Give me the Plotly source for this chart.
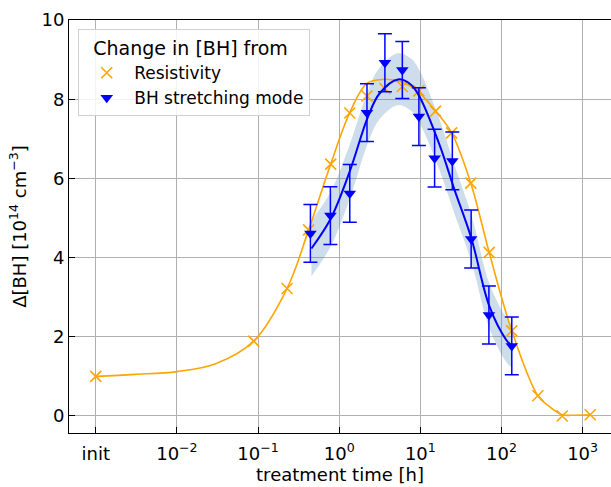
import plotly.graph_objects as go

# ---------------- data ----------------
# Resistivity markers
res_t = [1e-3, 0.0885, 0.228, 0.42, 0.786, 1.35, 2.2, 3.66, 6.0, 9.6,
         15.4, 24.3, 41.9, 70.6, 134, 281, 561, 1241]
res_val = [1.00, 1.89, 3.22, 4.70, 6.36, 7.65, 8.08, 8.27, 8.32, 8.21,
           7.70, 7.15, 5.88, 4.13, 2.15, 0.51, 0.00, 0.03]

# Resistivity smooth curve
res_curve_t = [1e-3, 3e-3, 1e-2, 0.03, 0.0885, 0.228, 0.42, 0.786, 1.35,
               2.2, 3.45, 6.0, 9.6, 15.4, 24.3, 41.9, 70.6, 134, 281,
               400, 561, 800, 1241]
res_curve_val = [1.00, 1.05, 1.12, 1.32, 1.89, 3.22, 4.70, 6.36, 7.66,
                 8.40, 8.50, 8.43, 8.17, 7.70, 7.15, 5.88, 4.13, 2.15,
                 0.51, 0.22, 0.03, 0.02, 0.03]

# BH stretching mode markers with error bars
bh_t = [0.442, 0.779, 1.35, 2.2, 3.66, 6.0, 9.6, 15.0, 24.8, 42.3, 70, 134]
bh_val = [4.61, 5.06, 5.62, 7.66, 8.92, 8.74, 7.56, 6.51, 6.44, 4.47, 2.55, 1.77]
bh_err = [0.73, 0.73, 0.73, 0.73, 0.73, 0.72, 0.73, 0.73, 0.73, 0.73, 0.73, 0.73]

# BH fit curve and its uncertainty band
fit_t = [0.455, 0.785, 1.346, 2.265, 3.155, 5.30, 7.74, 9.79, 17.3,
         26.4, 42.5, 71.3, 114.6, 134.3]
fit_val = [4.23, 4.98, 6.17, 7.56, 8.15, 8.50, 8.36, 8.06, 6.84,
           5.71, 4.49, 2.76, 1.92, 1.77]
fit_upper = [4.93, 5.66, 6.85, 8.22, 8.80, 9.16, 9.02, 8.72, 7.48,
             6.33, 5.08, 3.33, 2.48, 2.32]
fit_lower = [3.53, 4.28, 5.48, 6.90, 7.50, 7.85, 7.70, 7.40, 6.20,
             5.10, 3.90, 2.20, 1.36, 1.22]

x_tickvals = [1e-3, 1e-2, 1e-1, 1e0, 1e1, 1e2, 1e3]
x_ticktext = ["init", "10<sup>−2</sup>", "10<sup>−1</sup>", "10<sup>0</sup>",
              "10<sup>1</sup>", "10<sup>2</sup>", "10<sup>3</sup>"]
y_tickvals = [0, 2, 4, 6, 8, 10]

ORANGE = "#FFA500"
BLUE = "#0000FF"
FONT = "DejaVu Sans"

fig = go.Figure()

# band
fig.add_trace(go.Scatter(x=fit_t, y=fit_upper, mode="lines",
                         line=dict(width=0, shape="spline", color="rgba(0,0,0,0)"),
                         showlegend=False, hoverinfo="skip"))
fig.add_trace(go.Scatter(x=fit_t, y=fit_lower, mode="lines",
                         line=dict(width=0, shape="spline", color="rgba(0,0,0,0)"),
                         fill="tonexty", fillcolor="rgba(70,130,180,0.27)",
                         showlegend=False, hoverinfo="skip"))

# resistivity curve
fig.add_trace(go.Scatter(x=res_curve_t, y=res_curve_val, mode="lines",
                         line=dict(color=ORANGE, width=1.6, shape="spline", smoothing=1.0),
                         showlegend=False, hoverinfo="skip"))
# resistivity markers
fig.add_trace(go.Scatter(x=res_t, y=res_val, mode="markers", name="Resistivity",
                         marker=dict(symbol="x-thin", size=11, color=ORANGE,
                                     line=dict(color=ORANGE, width=1.6))))

# BH fit
fig.add_trace(go.Scatter(x=fit_t, y=fit_val, mode="lines",
                         line=dict(color=BLUE, width=2, shape="spline", smoothing=1.0),
                         showlegend=False, hoverinfo="skip"))
# BH markers
fig.add_trace(go.Scatter(x=bh_t, y=bh_val, mode="markers", name="BH stretching mode",
                         marker=dict(symbol="triangle-down", size=11, color=BLUE),
                         error_y=dict(type="data", array=bh_err, visible=True,
                                      color=BLUE, thickness=1.5, width=7)))

fig.update_layout(
    width=611, height=487,
    margin=dict(l=69, r=0, t=20, b=54),
    plot_bgcolor="white", paper_bgcolor="white",
    font=dict(family=FONT, size=18, color="black"),
    legend=dict(
        title=dict(text="\u00a0\u00a0Change in [BH] from", font=dict(family=FONT, size=19, color="black")),
        traceorder="normal",
        x=0.017, y=0.977, xanchor="left", yanchor="top",
        bgcolor="rgba(255,255,255,0.85)", bordercolor="#d0d0d0", borderwidth=1,
        font=dict(family=FONT, size=17, color="black"), itemwidth=45,
    ),
)

fig.update_xaxes(
    type="log", range=[-3.33, 3.35],
    tickvals=x_tickvals, ticktext=x_ticktext,
    tickfont=dict(family=FONT, size=18, color="black"),
    ticklabelstandoff=4,
    ticks="inside", ticklen=6, tickwidth=1, tickcolor="black",
    showline=True, linecolor="black", linewidth=1, mirror=True,
    showgrid=True, gridcolor="#b0b0b0", gridwidth=1, zeroline=False,
    title=dict(text="treatment time [h]", font=dict(family=FONT, size=18, color="black"), standoff=3),
)
fig.update_yaxes(
    range=[-0.43, 10], tickvals=y_tickvals,
    tickfont=dict(family=FONT, size=18, color="black"),
    ticks="inside", ticklen=6, tickwidth=1, tickcolor="black",
    showline=True, linecolor="black", linewidth=1, mirror=False,
    showgrid=True, gridcolor="#b0b0b0", gridwidth=1, zeroline=False,
    title=dict(text="Δ[BH] [10<sup>14</sup> cm<sup>−3</sup>]", font=dict(family=FONT, size=18, color="black"), standoff=10),
)

fig.write_html("out.html")
